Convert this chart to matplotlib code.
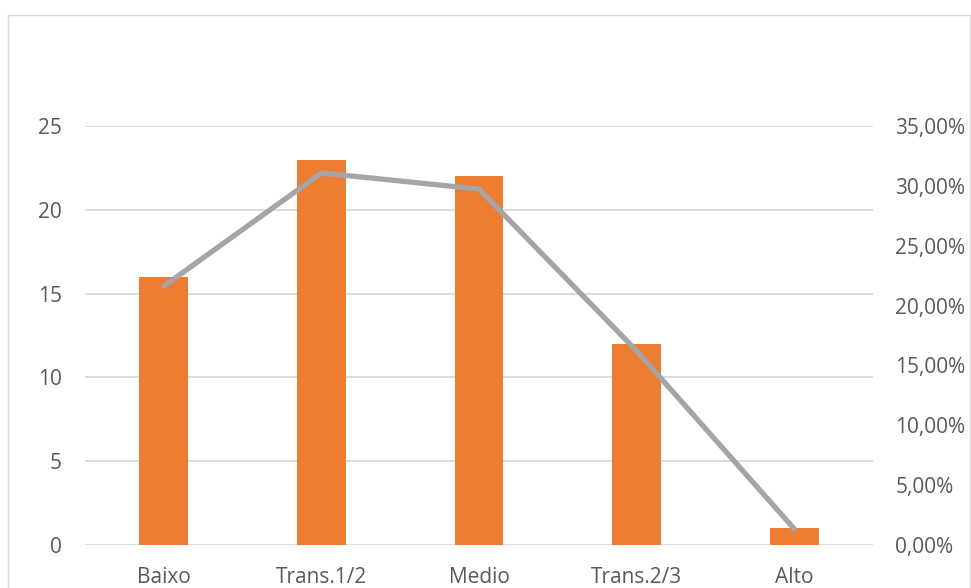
import matplotlib
matplotlib.use("Agg")
import matplotlib.pyplot as plt
from matplotlib.patches import Rectangle
from matplotlib.ticker import FuncFormatter

categories = ["Baixo", "Trans.1/2", "Medio", "Trans.2/3", "Alto"]
counts = [16, 23, 22, 12, 1]
shares = [21.62, 31.08, 29.73, 16.22, 1.35]  # percent of total

left_ticks = [0, 5, 10, 15, 20, 25]
right_ticks = [0, 5, 10, 15, 20, 25, 30, 35]

plt.rcParams["font.family"] = ["Open Sans", "DejaVu Sans"]
text_color = "#595959"

W, H = 971, 588
fig = plt.figure(figsize=(W / 100, H / 100), dpi=100)
fig.patch.set_facecolor("white")

# chart frame
fig.add_artist(Rectangle((7.5 / W, -0.1), (970 - 7.5) / W, (H - 14.5) / H + 0.1,
                         transform=fig.transFigure, fill=False,
                         edgecolor="#D9D9D9", linewidth=1.0))

x0, x1 = 85, 873
y_top, y_bot = 126, 545
ax = fig.add_axes([x0 / W, 1 - y_bot / H, (x1 - x0) / W, (y_bot - y_top) / H])
ax.set_facecolor("none")

xs = list(range(len(categories)))
ax.bar(xs, counts, width=0.31, color="#ED7D31", zorder=2)
ax.set_xlim(-0.5, len(categories) - 0.5)
ax.set_ylim(0, 25)
ax.set_yticks(left_ticks)
ax.grid(axis="y", color="#D9D9D9", linewidth=1.3, zorder=0)
ax.set_axisbelow(True)
for s in ax.spines.values():
    s.set_visible(False)
ax.tick_params(axis="both", length=0, labelsize=15, colors=text_color)
ax.tick_params(axis="y", pad=16.5)
ax.tick_params(axis="x", pad=16)
ax.set_xticks(xs)
ax.set_xticklabels(categories)

ax2 = ax.twinx()
ax2.plot(xs, shares, color="#A5A5A5", linewidth=3.8, solid_capstyle="round",
         solid_joinstyle="round", zorder=3)
ax2.set_ylim(0, 35)
ax2.set_yticks(right_ticks)
ax2.yaxis.set_major_formatter(FuncFormatter(lambda v, p: f"{v:.2f}%".replace(".", ",")))
for s in ax2.spines.values():
    s.set_visible(False)
ax2.tick_params(axis="y", length=0, labelsize=15, colors=text_color, pad=16)

fig.savefig("out.png", dpi=100, facecolor="white")
